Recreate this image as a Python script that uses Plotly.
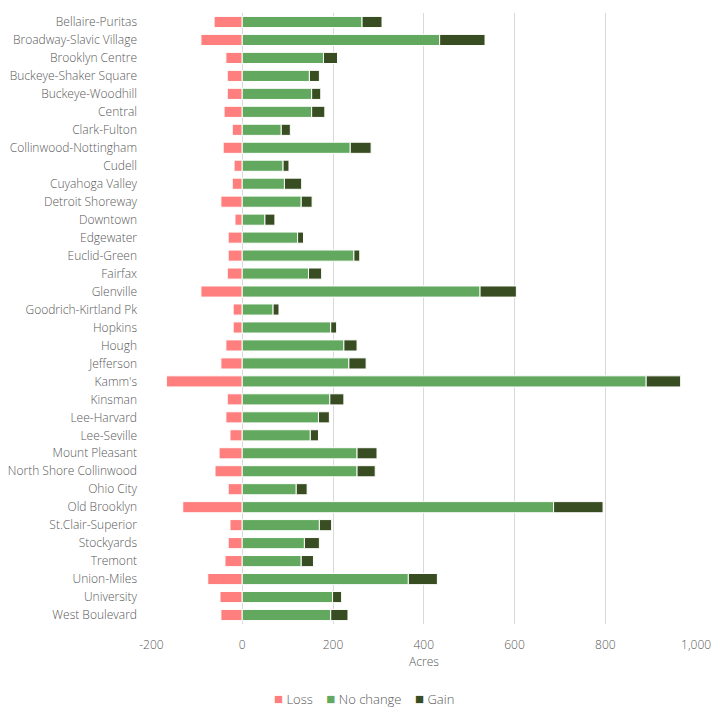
import plotly.graph_objects as go

neighborhoods = [
    "Bellaire-Puritas", "Broadway-Slavic Village", "Brooklyn Centre",
    "Buckeye-Shaker Square", "Buckeye-Woodhill", "Central", "Clark-Fulton",
    "Collinwood-Nottingham", "Cudell", "Cuyahoga Valley", "Detroit Shoreway",
    "Downtown", "Edgewater", "Euclid-Green", "Fairfax", "Glenville",
    "Goodrich-Kirtland Pk", "Hopkins", "Hough", "Jefferson", "Kamm's",
    "Kinsman", "Lee-Harvard", "Lee-Seville", "Mount Pleasant",
    "North Shore Collinwood", "Ohio City", "Old Brooklyn", "St.Clair-Superior",
    "Stockyards", "Tremont", "Union-Miles", "University", "West Boulevard",
]

# acres lost (shown to the left of zero)
loss = [
    -62, -91, -36, -33, -33, -40, -22, -42, -18, -22, -47, -16,
    -31, -31, -33, -91, -20, -20, -36, -47, -167, -33, -36, -27,
    -51, -60, -31, -131, -27, -31, -38, -76, -49, -47,
]

no_change = [
    264, 435, 179, 148, 153, 153, 86, 238, 90, 93, 130, 50,
    122, 246, 146, 524, 68, 195, 224, 235, 890, 193, 168, 150,
    253, 253, 119, 686, 170, 137, 130, 366, 199, 195,
]

gain = [
    44, 100, 31, 22, 20, 29, 20, 46, 13, 38, 24, 22,
    13, 13, 29, 80, 13, 13, 29, 38, 76, 31, 24, 18,
    44, 40, 24, 109, 27, 33, 27, 64, 20, 38,
]

x_ticks = [-200, 0, 200, 400, 600, 800, 1000]
x_tick_labels = ["-200", "0", "200", "400", "600", "800", "1,000"]

series = [
    ("Loss", loss, "#ff7f7f"),
    ("No change", no_change, "#62a95f"),
    ("Gain", gain, "#394d23"),
]

fig = go.Figure()
for name, vals, color in series:
    fig.add_trace(
        go.Bar(
            y=neighborhoods,
            x=vals,
            name=name,
            orientation="h",
            marker=dict(color=color, line=dict(color="white", width=1)),
            showlegend=False,
        )
    )

text_font = dict(family="Open Sans, sans-serif", size=12, color="#595959", weight=300)

# legend drawn as one line of text so the swatches sit close to their labels
legend_text = "&nbsp;&nbsp;&nbsp;&nbsp;".join(
    f"<span style='color:{color}; font-size:15px'>■</span> {name}"
    for name, _, color in series
)
fig.add_annotation(
    text=legend_text,
    xref="paper",
    yref="paper",
    x=0.39,
    y=-0.121,
    xanchor="center",
    yanchor="middle",
    showarrow=False,
    font=dict(family="Open Sans, sans-serif", size=13, color="#595959", weight=300),
)

# page body adds 8px, so margins are shifted to compensate
fig.update_layout(
    width=720,
    height=720,
    barmode="relative",
    bargap=0.38,
    plot_bgcolor="white",
    paper_bgcolor="white",
    font=text_font,
    margin=dict(l=143, r=31, t=5, b=104),
    xaxis=dict(
        range=[-201, 1002],
        tickvals=x_ticks,
        ticktext=x_tick_labels,
        showgrid=True,
        gridcolor="#d9d9d9",
        gridwidth=1,
        zeroline=True,
        zerolinecolor="#d9d9d9",
        zerolinewidth=1,
        showline=False,
        ticks="",
        ticklabelstandoff=12,
        automargin=False,
        title=dict(text="Acres", standoff=5, font=text_font),
        tickfont=text_font,
    ),
    yaxis=dict(
        autorange="reversed",
        showgrid=False,
        showline=False,
        ticks="",
        ticklabelstandoff=13,
        automargin=False,
        tickfont=text_font,
    ),
    showlegend=False,
)

fig.write_html("out.html")
